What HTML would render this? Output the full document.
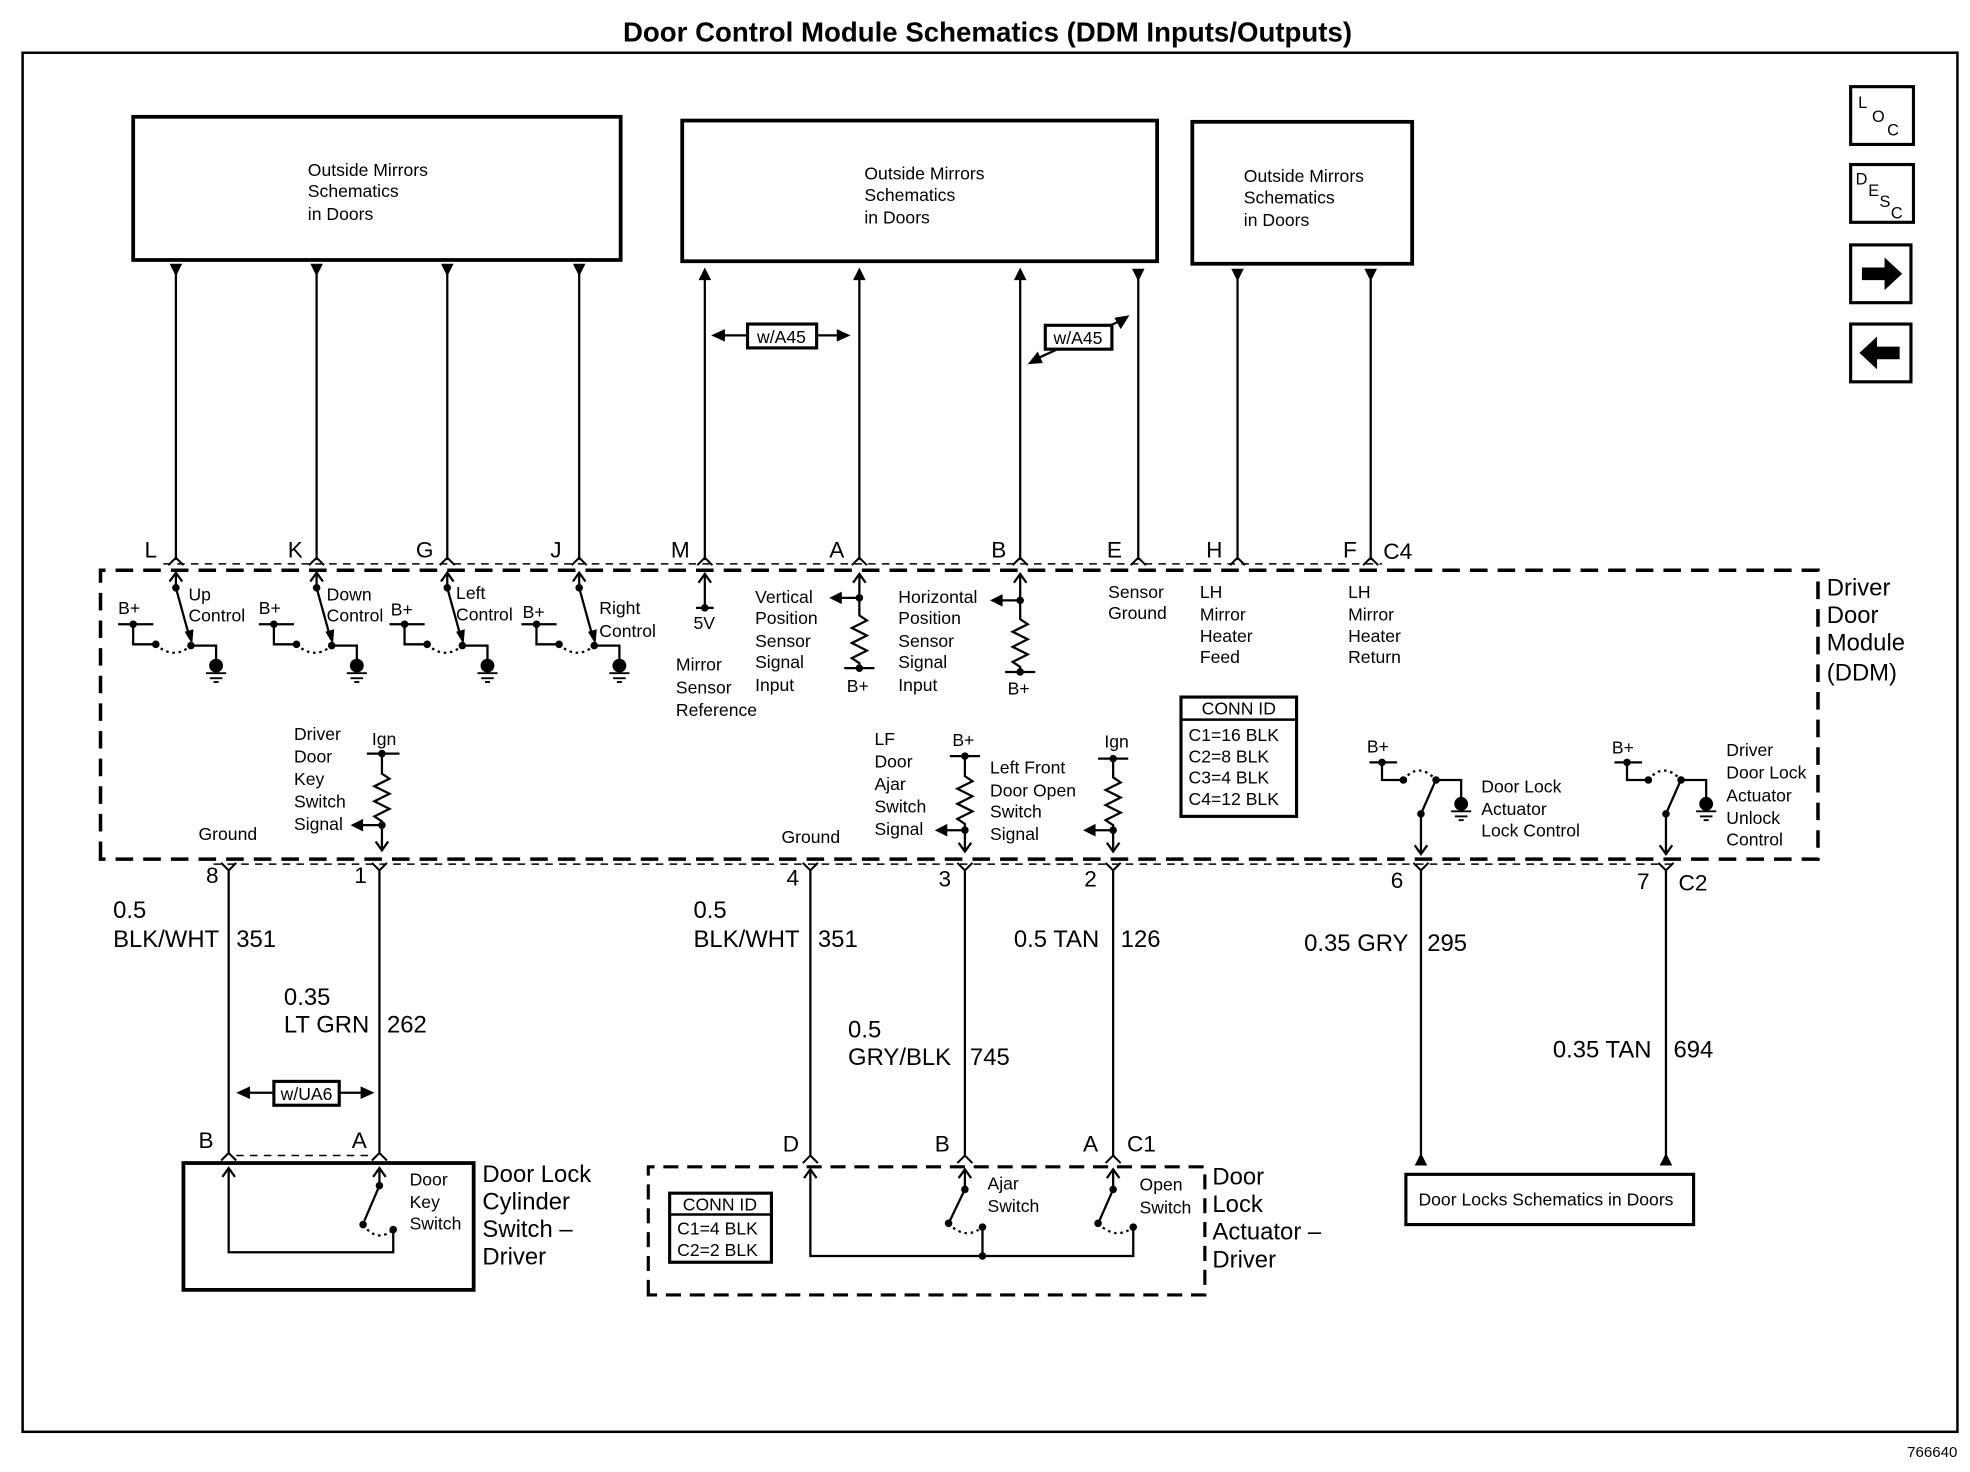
<!DOCTYPE html>
<html><head><meta charset="utf-8"><style>
html,body{margin:0;padding:0;background:#fff;width:1970px;height:1472px;overflow:hidden}
svg{display:block}
text{font-family:"Liberation Sans",Arial,sans-serif;fill:#000}
.s{font-size:14px}
.m{font-size:18px}
.l{font-size:19px}
</style></head><body>
<svg width="1970" height="1472" viewBox="0 0 1568 1172" preserveAspectRatio="none" xmlns="http://www.w3.org/2000/svg">
<defs>
<g id="gnd"><circle cx="0" cy="0" r="5.5"/><line x1="-8" y1="6" x2="8" y2="6" stroke="#000" stroke-width="1.5"/><line x1="-5" y1="10" x2="5" y2="10" stroke="#000" stroke-width="1.5"/><line x1="-2" y1="13" x2="2" y2="13" stroke="#000" stroke-width="1.5"/></g>
<path id="ch" d="M-6,6 L0,0 L6,6" fill="none" stroke="#000" stroke-width="1.6"/>
<path id="cv" d="M-6,-6 L0,0 L6,-6" fill="none" stroke="#000" stroke-width="1.6"/>
<path id="oup" d="M-5,7 L0,0 L5,7" fill="none" stroke="#000" stroke-width="1.8"/>
<path id="odn" d="M-5,-7 L0,0 L5,-7" fill="none" stroke="#000" stroke-width="1.8"/>
<path id="tdn" d="M-5,-10 L5,-10 L0,0 z"/>
<path id="tup" d="M-5,10 L5,10 L0,0 z"/>
<path id="tlf" d="M10,-5 L10,5 L0,0 z"/>
<path id="res" d="M0,0 V6 L6,10 L-6,16 L6,22 L-6,28 L6,34 L-6,40 L0,44 V48" fill="none" stroke="#000" stroke-width="1.8"/>
<g id="sw">
<g stroke="#000" stroke-width="1.8" fill="none">
<line x1="42" y1="468" x2="42" y2="456"/>
<line x1="-4" y1="497" x2="24" y2="497"/>
<polyline points="8,497 8,513 26,513"/>
<path d="M26,513 Q40,526 54,514" stroke-dasharray="2,3"/>
<line x1="42" y1="468" x2="53" y2="508"/>
<polyline points="54,514 74,514 74,528"/>
</g>
<use href="#oup" x="42" y="456"/>
<path d="M49,503 L55,513 L56,501 z"/>
<circle cx="8" cy="497" r="3"/><circle cx="26" cy="513" r="3"/><circle cx="42" cy="468" r="3"/><circle cx="54" cy="514" r="3"/>
<use href="#gnd" x="74" y="530"/>
</g>
<g id="lsw">
<g stroke="#000" stroke-width="1.8" fill="none">
<line x1="-41" y1="607" x2="-19" y2="607"/>
<polyline points="-31,607 -31,621 -14,621"/>
<path d="M-14,621 Q-2,606 12,621" stroke-dasharray="2,3"/>
<line x1="0" y1="648" x2="11" y2="623"/>
<polyline points="12,621 32,621 32,636"/>
<line x1="0" y1="648" x2="0" y2="680"/>
</g>
<use href="#odn" x="0" y="680"/>
<circle cx="-31" cy="607" r="3"/><circle cx="-14" cy="621" r="3"/><circle cx="12" cy="621" r="3"/><circle cx="0" cy="648" r="3"/>
<use href="#gnd" x="32" y="640"/>
</g>
</defs>
<rect width="1568" height="1172" fill="#fff"/>
<text x="786" y="33" text-anchor="middle" font-size="22" font-weight="bold">Door Control Module Schematics (DDM Inputs/Outputs)</text>
<rect x="18" y="42" width="1540" height="1098" fill="none" stroke="#000" stroke-width="2"/>
<text x="1558" y="1160" text-anchor="end" font-size="12">766640</text>

<g fill="none" stroke="#000" stroke-width="3">
<rect x="106" y="93" width="388" height="114"/>
<rect x="543" y="96" width="378" height="112"/>
<rect x="949" y="97" width="175" height="113"/>
</g>
<text class="s"><tspan x="245" y="140">Outside Mirrors</tspan><tspan x="245" y="157">Schematics</tspan><tspan x="245" y="175">in Doors</tspan></text>
<text class="s"><tspan x="688" y="143">Outside Mirrors</tspan><tspan x="688" y="160">Schematics</tspan><tspan x="688" y="178">in Doors</tspan></text>
<text class="s"><tspan x="990" y="145">Outside Mirrors</tspan><tspan x="990" y="162">Schematics</tspan><tspan x="990" y="180">in Doors</tspan></text>

<g fill="none" stroke="#000" stroke-width="2.5">
<rect x="1473" y="69" width="50" height="46"/><rect x="1473" y="131" width="50" height="46"/>
<rect x="1473" y="195" width="48" height="46"/><rect x="1473" y="258" width="48" height="46"/>
</g>
<text font-size="13"><tspan x="1479" y="86">L</tspan><tspan x="1490" y="97">O</tspan><tspan x="1502" y="108">C</tspan></text>
<text font-size="13"><tspan x="1477" y="147">D</tspan><tspan x="1487" y="156">E</tspan><tspan x="1496" y="165">S</tspan><tspan x="1505" y="174">C</tspan></text>
<path d="M1482,213 h18 v-8 l14,13 l-14,13 v-8 h-18 z"/>
<path d="M1512,276 h-18 v-8 l-14,13 l14,13 v-8 h18 z"/>

<g stroke="#000" stroke-width="1.8">
<line x1="140" y1="215" x2="140" y2="446"/><line x1="252" y1="215" x2="252" y2="446"/>
<line x1="356" y1="215" x2="356" y2="446"/><line x1="461" y1="215" x2="461" y2="446"/>
<line x1="561" y1="215" x2="561" y2="446"/><line x1="684" y1="215" x2="684" y2="446"/>
<line x1="812" y1="215" x2="812" y2="446"/><line x1="906" y1="218" x2="906" y2="446"/>
<line x1="985" y1="218" x2="985" y2="446"/><line x1="1091" y1="218" x2="1091" y2="446"/>
</g>
<use href="#tdn" x="140" y="220"/><use href="#tdn" x="252" y="220"/><use href="#tdn" x="356" y="220"/><use href="#tdn" x="461" y="220"/>
<use href="#tup" x="561" y="213"/><use href="#tup" x="684" y="213"/><use href="#tup" x="812" y="213"/>
<use href="#tdn" x="906" y="224"/><use href="#tdn" x="985" y="224"/><use href="#tdn" x="1091" y="224"/>
<line x1="575" y1="267" x2="670" y2="267" stroke="#000" stroke-width="1.8"/>
<path d="M566,267 L577,262 L577,272 z"/><path d="M677,267 L666,262 L666,272 z"/>
<rect x="595" y="258" width="55" height="19" fill="#fff" stroke="#000" stroke-width="2.5"/>
<text x="622" y="273" text-anchor="middle" class="s">w/A45</text>
<line x1="822" y1="287" x2="895" y2="254" stroke="#000" stroke-width="1.8"/>
<path d="M818,290 L826,280 L830,289 z"/><path d="M899,251 L887,253 L892,262 z"/>
<rect x="832" y="259" width="53" height="19" fill="#fff" stroke="#000" stroke-width="2.5"/>
<text x="858" y="274" text-anchor="middle" class="s">w/A45</text>

<text class="m"><tspan x="115" y="444">L</tspan><tspan x="229" y="444">K</tspan><tspan x="331" y="444">G</tspan><tspan x="438" y="444">J</tspan><tspan x="534" y="444">M</tspan><tspan x="660" y="444">A</tspan><tspan x="789" y="444">B</tspan><tspan x="881" y="444">E</tspan><tspan x="960" y="444">H</tspan><tspan x="1069" y="444">F</tspan><tspan x="1101" y="445">C4</tspan></text>
<use href="#ch" x="140" y="444"/><use href="#ch" x="252" y="444"/><use href="#ch" x="356" y="444"/><use href="#ch" x="461" y="444"/><use href="#ch" x="561" y="444"/><use href="#ch" x="684" y="444"/><use href="#ch" x="812" y="444"/><use href="#ch" x="906" y="444"/><use href="#ch" x="985" y="444"/><use href="#ch" x="1091" y="444"/>
<line x1="130" y1="449" x2="1100" y2="449" stroke="#000" stroke-width="1.2" stroke-dasharray="6,5"/>

<path d="M80,684 V454 H1447 V684 Z" fill="none" stroke="#000" stroke-width="2.8" stroke-dasharray="14,8"/>
<text font-size="19"><tspan x="1454" y="474">Driver</tspan><tspan x="1454" y="496">Door</tspan><tspan x="1454" y="518">Module</tspan><tspan x="1454" y="542">(DDM)</tspan></text>

<use href="#sw" x="98" y="0"/><use href="#sw" x="210" y="0"/><use href="#sw" x="314" y="0"/><use href="#sw" x="419" y="0"/>
<text class="s"><tspan x="94" y="489">B+</tspan><tspan x="206" y="489">B+</tspan><tspan x="311" y="490">B+</tspan><tspan x="416" y="492">B+</tspan></text>
<text class="s"><tspan x="150" y="478">Up</tspan><tspan x="150" y="495">Control</tspan></text>
<text class="s"><tspan x="260" y="478">Down</tspan><tspan x="260" y="495">Control</tspan></text>
<text class="s"><tspan x="363" y="477">Left</tspan><tspan x="363" y="494">Control</tspan></text>
<text class="s"><tspan x="477" y="489">Right</tspan><tspan x="477" y="507">Control</tspan></text>

<g stroke="#000" stroke-width="1.8"><line x1="561" y1="458" x2="561" y2="484"/><line x1="554" y1="484" x2="568" y2="484"/></g>
<use href="#oup" x="561" y="457"/><circle cx="561" cy="484" r="3"/>
<text class="s"><tspan x="552" y="501">5V</tspan></text>
<text class="s"><tspan x="538" y="534">Mirror</tspan><tspan x="538" y="552">Sensor</tspan><tspan x="538" y="570">Reference</tspan></text>
<g stroke="#000" stroke-width="1.8"><line x1="684" y1="458" x2="684" y2="484"/><line x1="668" y1="476" x2="684" y2="476"/><line x1="672" y1="532" x2="696" y2="532"/></g>
<use href="#oup" x="684" y="457"/><use href="#tlf" x="660" y="476"/><circle cx="684" cy="476" r="3"/><use href="#res" x="684" y="484"/><circle cx="684" cy="532" r="3"/>
<text class="s"><tspan x="674" y="551">B+</tspan></text>
<text class="s"><tspan x="601" y="480">Vertical</tspan><tspan x="601" y="497">Position</tspan><tspan x="601" y="515">Sensor</tspan><tspan x="601" y="532">Signal</tspan><tspan x="601" y="550">Input</tspan></text>
<g stroke="#000" stroke-width="1.8"><line x1="812" y1="458" x2="812" y2="487"/><line x1="796" y1="478" x2="812" y2="478"/><line x1="800" y1="535" x2="824" y2="535"/></g>
<use href="#oup" x="812" y="457"/><use href="#tlf" x="788" y="478"/><circle cx="812" cy="478" r="3"/><use href="#res" x="812" y="487"/><circle cx="812" cy="535" r="3"/>
<text class="s"><tspan x="802" y="553">B+</tspan></text>
<text class="s"><tspan x="715" y="480">Horizontal</tspan><tspan x="715" y="497">Position</tspan><tspan x="715" y="515">Sensor</tspan><tspan x="715" y="532">Signal</tspan><tspan x="715" y="550">Input</tspan></text>
<text class="s"><tspan x="882" y="476">Sensor</tspan><tspan x="882" y="493">Ground</tspan></text>
<text class="s"><tspan x="955" y="476">LH</tspan><tspan x="955" y="494">Mirror</tspan><tspan x="955" y="511">Heater</tspan><tspan x="955" y="528">Feed</tspan></text>
<text class="s"><tspan x="1073" y="476">LH</tspan><tspan x="1073" y="494">Mirror</tspan><tspan x="1073" y="511">Heater</tspan><tspan x="1073" y="528">Return</tspan></text>
<rect x="940" y="555" width="92" height="95" fill="none" stroke="#000" stroke-width="2.5"/>
<line x1="940" y1="573" x2="1032" y2="573" stroke="#000" stroke-width="2"/>
<text x="986" y="569" text-anchor="middle" class="s">CONN ID</text>
<text class="s"><tspan x="946" y="590">C1=16 BLK</tspan><tspan x="946" y="607">C2=8 BLK</tspan><tspan x="946" y="624">C3=4 BLK</tspan><tspan x="946" y="641">C4=12 BLK</tspan></text>

<text class="s"><tspan x="234" y="589">Driver</tspan><tspan x="234" y="607">Door</tspan><tspan x="234" y="625">Key</tspan><tspan x="234" y="643">Switch</tspan><tspan x="234" y="661">Signal</tspan></text>
<text class="s" x="296" y="593">Ign</text>
<g stroke="#000" stroke-width="1.8"><line x1="292" y1="600" x2="318" y2="600"/><line x1="304" y1="600" x2="304" y2="610"/><line x1="304" y1="658" x2="304" y2="677"/><line x1="288" y1="657" x2="304" y2="657"/></g>
<circle cx="304" cy="600" r="3"/><use href="#res" x="304" y="610"/><circle cx="304" cy="657" r="3"/><use href="#tlf" x="279" y="657"/><use href="#odn" x="304" y="677"/>
<text class="s" x="158" y="669">Ground</text>
<text class="s" x="622" y="671">Ground</text>
<text class="s"><tspan x="696" y="593">LF</tspan><tspan x="696" y="611">Door</tspan><tspan x="696" y="629">Ajar</tspan><tspan x="696" y="647">Switch</tspan><tspan x="696" y="665">Signal</tspan></text>
<text class="s" x="758" y="594">B+</text>
<g stroke="#000" stroke-width="1.8"><line x1="756" y1="602" x2="780" y2="602"/><line x1="768" y1="602" x2="768" y2="612"/><line x1="768" y1="660" x2="768" y2="678"/><line x1="752" y1="661" x2="768" y2="661"/></g>
<circle cx="768" cy="602" r="3"/><use href="#res" x="768" y="612"/><circle cx="768" cy="661" r="3"/><use href="#tlf" x="744" y="661"/><use href="#odn" x="768" y="678"/>
<text class="s"><tspan x="788" y="616">Left Front</tspan><tspan x="788" y="634">Door Open</tspan><tspan x="788" y="651">Switch</tspan><tspan x="788" y="669">Signal</tspan></text>
<text class="s" x="879" y="595">Ign</text>
<g stroke="#000" stroke-width="1.8"><line x1="874" y1="604" x2="898" y2="604"/><line x1="886" y1="604" x2="886" y2="613"/><line x1="886" y1="660" x2="886" y2="678"/><line x1="870" y1="661" x2="886" y2="661"/></g>
<circle cx="886" cy="604" r="3"/><use href="#res" x="886" y="613"/><circle cx="886" cy="661" r="3"/><use href="#tlf" x="862" y="661"/><use href="#odn" x="886" y="678"/>
<use href="#lsw" x="1131" y="0"/><use href="#lsw" x="1326" y="0"/>
<text class="s" x="1088" y="599">B+</text><text class="s" x="1283" y="600">B+</text>
<text class="s"><tspan x="1179" y="631">Door Lock</tspan><tspan x="1179" y="649">Actuator</tspan><tspan x="1179" y="666">Lock Control</tspan></text>
<text class="s"><tspan x="1374" y="602">Driver</tspan><tspan x="1374" y="620">Door Lock</tspan><tspan x="1374" y="638">Actuator</tspan><tspan x="1374" y="656">Unlock</tspan><tspan x="1374" y="673">Control</tspan></text>

<line x1="170" y1="688" x2="1335" y2="688" stroke="#000" stroke-width="1.2" stroke-dasharray="6,5"/>
<text class="m"><tspan x="164" y="703">8</tspan><tspan x="282" y="703">1</tspan><tspan x="626" y="705">4</tspan><tspan x="747" y="706">3</tspan><tspan x="863" y="706">2</tspan><tspan x="1107" y="707">6</tspan><tspan x="1303" y="708">7</tspan><tspan x="1336" y="709">C2</tspan></text>
<use href="#cv" x="182" y="693"/><use href="#cv" x="302" y="693"/><use href="#cv" x="645" y="693"/><use href="#cv" x="768" y="693"/><use href="#cv" x="886" y="693"/><use href="#cv" x="1131" y="693"/><use href="#cv" x="1326" y="693"/>
<g stroke="#000" stroke-width="1.8">
<line x1="182" y1="693" x2="182" y2="918"/><line x1="302" y1="693" x2="302" y2="918"/>
<line x1="645" y1="693" x2="645" y2="920"/><line x1="768" y1="693" x2="768" y2="920"/><line x1="886" y1="693" x2="886" y2="920"/>
<line x1="1131" y1="693" x2="1131" y2="920"/><line x1="1326" y1="693" x2="1326" y2="920"/>
</g>
<use href="#tup" x="1131" y="918"/><use href="#tup" x="1326" y="918"/>
<text class="l"><tspan x="90" y="731">0.5</tspan><tspan x="90" y="754">BLK/WHT</tspan><tspan x="188" y="754">351</tspan></text>
<text class="l"><tspan x="226" y="800">0.35</tspan><tspan x="226" y="822">LT GRN</tspan><tspan x="308" y="822">262</tspan></text>
<text class="l"><tspan x="552" y="731">0.5</tspan><tspan x="552" y="754">BLK/WHT</tspan><tspan x="651" y="754">351</tspan></text>
<text class="l"><tspan x="807" y="754">0.5 TAN</tspan><tspan x="892" y="754">126</tspan></text>
<text class="l"><tspan x="675" y="826">0.5</tspan><tspan x="675" y="848">GRY/BLK</tspan><tspan x="772" y="848">745</tspan></text>
<text class="l"><tspan x="1038" y="757">0.35 GRY</tspan><tspan x="1136" y="757">295</tspan></text>
<text class="l"><tspan x="1236" y="842">0.35 TAN</tspan><tspan x="1332" y="842">694</tspan></text>
<line x1="196" y1="870" x2="290" y2="870" stroke="#000" stroke-width="1.8"/>
<path d="M188,870 L199,865 L199,875 z"/><path d="M298,870 L287,865 L287,875 z"/>
<rect x="218" y="861" width="52" height="19" fill="#fff" stroke="#000" stroke-width="2.5"/>
<text x="244" y="876" text-anchor="middle" class="s">w/UA6</text>

<text class="m"><tspan x="158" y="914">B</tspan><tspan x="280" y="914">A</tspan></text>
<use href="#ch" x="182" y="918"/><use href="#ch" x="302" y="918"/>
<line x1="188" y1="920" x2="296" y2="920" stroke="#000" stroke-width="1.2" stroke-dasharray="6,5"/>
<rect x="146" y="926" width="231" height="101" fill="none" stroke="#000" stroke-width="3"/>
<g stroke="#000" stroke-width="1.8" fill="none">
<polyline points="182,931 182,997 313,997 313,979"/>
<line x1="302" y1="931" x2="302" y2="944"/>
<line x1="302" y1="944" x2="290" y2="972"/>
<path d="M289,975 Q300,990 313,979" stroke-dasharray="2,3"/>
</g>
<use href="#oup" x="182" y="930"/><use href="#oup" x="302" y="930"/>
<circle cx="302" cy="944" r="3"/><circle cx="289" cy="975" r="3"/><circle cx="313" cy="979" r="3"/>
<text class="s"><tspan x="326" y="944">Door</tspan><tspan x="326" y="962">Key</tspan><tspan x="326" y="979">Switch</tspan></text>
<text class="l"><tspan x="384" y="941">Door Lock</tspan><tspan x="384" y="963">Cylinder</tspan><tspan x="384" y="985">Switch –</tspan><tspan x="384" y="1007">Driver</tspan></text>

<text class="m"><tspan x="623" y="917">D</tspan><tspan x="744" y="917">B</tspan><tspan x="862" y="917">A</tspan><tspan x="897" y="917">C1</tspan></text>
<use href="#ch" x="645" y="920"/><use href="#ch" x="768" y="920"/><use href="#ch" x="886" y="920"/>
<path d="M516,1031 V929 H959 V1031 Z" fill="none" stroke="#000" stroke-width="2.5" stroke-dasharray="12,7"/>
<rect x="533" y="950" width="81" height="55" fill="none" stroke="#000" stroke-width="2.5"/>
<line x1="533" y1="967" x2="614" y2="967" stroke="#000" stroke-width="2"/>
<text x="573" y="964" text-anchor="middle" class="s">CONN ID</text>
<text class="s"><tspan x="539" y="983">C1=4 BLK</tspan><tspan x="539" y="1000">C2=2 BLK</tspan></text>
<g stroke="#000" stroke-width="1.8" fill="none">
<polyline points="645,932 645,1000 902,1000 902,977"/>
<line x1="782" y1="977" x2="782" y2="1000"/>
<line x1="768" y1="932" x2="768" y2="947"/><line x1="768" y1="947" x2="756" y2="972"/>
<path d="M755,974 Q768,988 782,977" stroke-dasharray="2,3"/>
<line x1="886" y1="932" x2="886" y2="947"/><line x1="886" y1="947" x2="875" y2="972"/>
<path d="M874,974 Q888,988 902,977" stroke-dasharray="2,3"/>
</g>
<use href="#oup" x="645" y="931"/><use href="#oup" x="768" y="931"/><use href="#oup" x="886" y="931"/>
<circle cx="768" cy="947" r="3"/><circle cx="755" cy="974" r="3"/><circle cx="782" cy="977" r="3"/><circle cx="782" cy="1000" r="3"/>
<circle cx="886" cy="947" r="3"/><circle cx="874" cy="974" r="3"/><circle cx="902" cy="977" r="3"/>
<text class="s"><tspan x="786" y="947">Ajar</tspan><tspan x="786" y="965">Switch</tspan></text>
<text class="s"><tspan x="907" y="948">Open</tspan><tspan x="907" y="966">Switch</tspan></text>
<text class="l"><tspan x="965" y="943">Door</tspan><tspan x="965" y="965">Lock</tspan><tspan x="965" y="987">Actuator –</tspan><tspan x="965" y="1009">Driver</tspan></text>

<rect x="1119" y="935" width="229" height="40" fill="none" stroke="#000" stroke-width="2.5"/>
<text class="s" x="1129" y="960">Door Locks Schematics in Doors</text>
</svg>
</body></html>
